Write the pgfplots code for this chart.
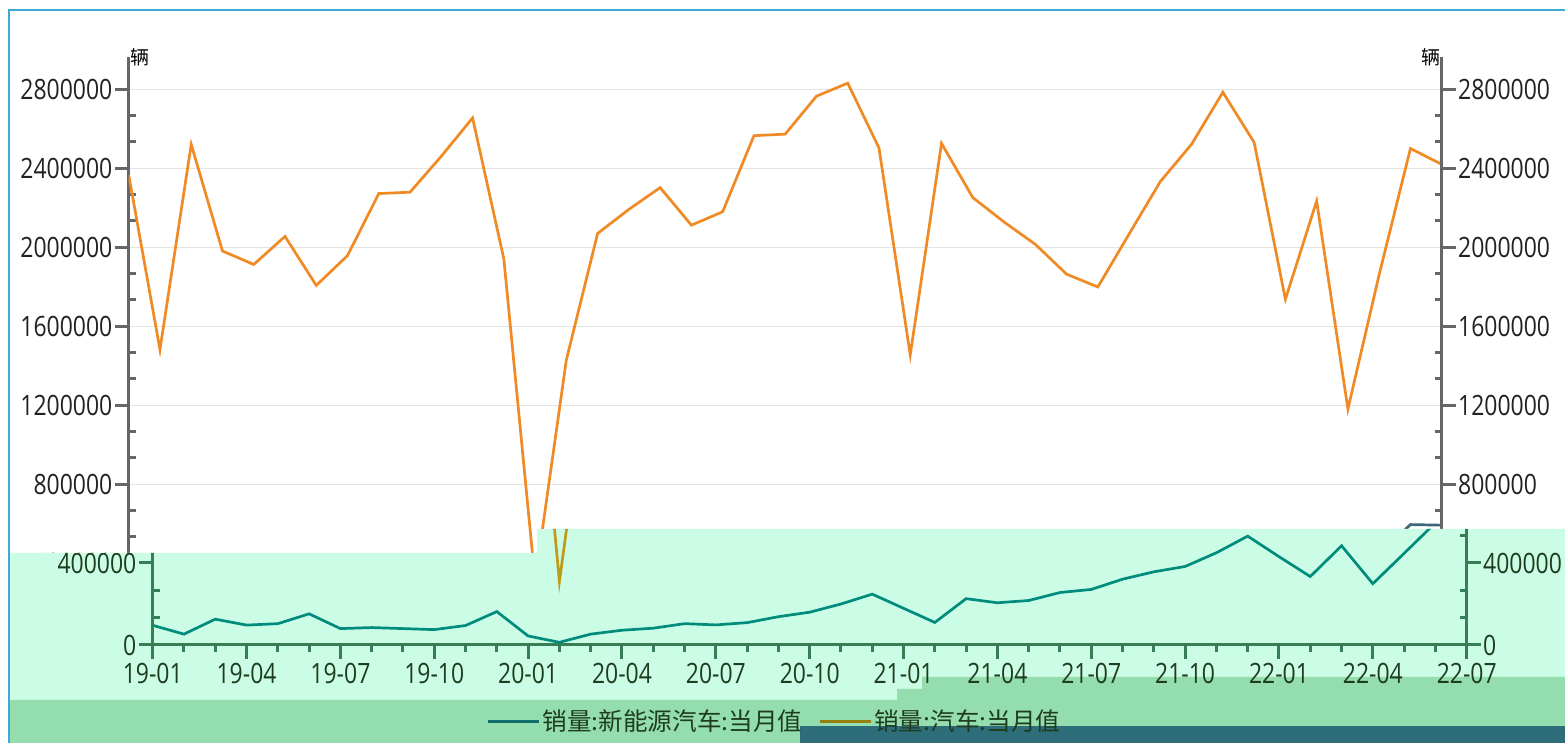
\documentclass[border=0pt]{standalone}
\usepackage{fontspec}
\setmainfont{Open Sans}[FakeStretch=0.82]
\newfontfamily\cjk{Noto Sans CJK SC}
\usepackage{pgfplots}
\usepackage{pgfplotstable}
\pgfplotsset{compat=1.18}

\definecolor{orangeT}{RGB}{240,138,36}
\definecolor{tealT}{RGB}{60,104,120}
\definecolor{axgray}{RGB}{102,102,102}
\definecolor{gridgray}{RGB}{228,228,228}
\definecolor{labdark}{RGB}{34,34,34}
\definecolor{mint}{RGB}{203,252,230}
\definecolor{bandgreen}{RGB}{147,221,174}
\definecolor{darkstrip}{RGB}{46,110,123}
\definecolor{axgreen}{RGB}{55,125,85}
\definecolor{labgreen}{RGB}{30,60,30}
\definecolor{olive}{RGB}{190,155,25}
\definecolor{tealC}{RGB}{0,140,125}
\definecolor{legteal}{RGB}{15,110,106}
\definecolor{legolive}{RGB}{150,128,15}
\definecolor{frameblue}{RGB}{60,170,210}

% month index (0 = 19-01), car sales, NEV sales
\pgfplotstableread{
m car nev
0 2367000 96000
1 1482000 53000
2 2521000 126000
3 1981000 97000
4 1913000 104000
5 2055000 152000
6 1807000 80000
7 1958000 85000
8 2272000 80000
9 2279000 75000
10 2461000 95000
11 2655000 163000
12 1941000 44000
13 310000 13000
14 1430000 53000
15 2070000 72000
16 2192000 82000
17 2302000 104000
18 2112000 98000
19 2180000 109000
20 2565000 138000
21 2573000 160000
22 2765000 200000
23 2831000 248000
24 2503000 179000
25 1455000 110000
26 2526000 226000
27 2252000 206000
28 2128000 217000
29 2015000 256000
30 1864000 271000
31 1799000 321000
32 2067000 357000
33 2333000 383000
34 2522000 450000
35 2785000 531000
36 2531000 431000
37 1737000 334000
38 2234000 484000
39 1181000 299000
40 1862000 447000
41 2500000 596000
42 2420000 593000
}\salesdata

\pgfplotsset{
  yax/.style={
    scale only axis, xmin=0, xmax=42, ymin=0, ymax=2963500,
    ytick={0,400000,800000,1200000,1600000,2000000,2400000,2800000},
    minor y tick num=2, scaled y ticks=false,
    /pgf/number format/assume math mode=true,
    y tick label style={/pgf/number format/fixed,/pgf/number format/precision=0,
      /pgf/number format/1000 sep={}, font=\fontsize{14}{16}\selectfont, inner sep=1pt},
    tick align=outside, major tick length=7pt, minor tick length=-3.5pt,
  },
  top/.style={yax, width=656.5pt, height=292.65pt, at={(64.35pt,50.35pt)}, anchor=south west,
    clip mode=individual,
    axis line style={color=axgray, line width=1.5pt},
    tick style={color=axgray, line width=1.5pt},
    y tick label style={text=labdark}},
  copy/.style={yax, width=657pt, height=303.75pt, at={(76.35pt,49pt)}, anchor=south west,
    axis line style={color=axgreen, line width=1.5pt},
    tick style={color=axgreen, line width=1.5pt},
    y tick label style={text=labgreen}},
}

\begin{document}
\begin{tikzpicture}
\fill[white] (0pt,0pt) rectangle (782.5pt,371.5pt);
\useasboundingbox (0pt,0pt) rectangle (782.5pt,371.5pt);

% the full chart
\begin{axis}[top, axis y line*=left, axis x line=none,
  ymajorgrids, grid style={color=gridgray, line width=0.5pt}]
\addplot[color=orangeT, line width=1.35pt] table[x=m, y=car] {\salesdata};
\addplot[color=tealT, line width=1.35pt] table[x=m, y=nev] {\salesdata};
\node[anchor=west, inner sep=0.5pt, text=black] at (rel axis cs:0,1) {\cjk\fontsize{9.5pt}{11pt}\selectfont 辆};
\end{axis}
\begin{axis}[top, axis y line*=right, axis x line=none]
\node[anchor=east, inner sep=0.5pt, text=black] at (rel axis cs:1,1) {\cjk\fontsize{9.5pt}{11pt}\selectfont 辆};
\end{axis}

% shifted, tinted band at the bottom
\begin{scope}
\clip (5pt,95pt) -- (268.5pt,95pt) -- (268.5pt,107pt) -- (782.5pt,107pt)
  -- (782.5pt,0pt) -- (5pt,0pt) -- cycle;
\fill[mint] (5pt,95pt) -- (268.5pt,95pt) -- (268.5pt,107pt) -- (782.5pt,107pt)
  -- (782.5pt,33pt) -- (461pt,33pt) -- (461pt,27pt) -- (448.5pt,27pt)
  -- (448.5pt,21.5pt) -- (5pt,21.5pt) -- cycle;
\fill[bandgreen] (5pt,21.5pt) -- (448.5pt,21.5pt) -- (448.5pt,27pt) -- (461pt,27pt)
  -- (461pt,33pt) -- (782.5pt,33pt) -- (782.5pt,8.5pt) -- (400pt,8.5pt)
  -- (400pt,0pt) -- (5pt,0pt) -- cycle;
\fill[darkstrip] (400pt,0pt) rectangle (782.5pt,8.5pt);

\begin{axis}[copy, axis x line*=bottom, axis y line=none,
  ytick=\empty, minor y tick num=0,
  xtick={0,3,...,42}, minor x tick num=2, minor tick length=3.5pt,
  xticklabels={19-01,19-04,19-07,19-10,20-01,20-04,20-07,20-10,21-01,21-04,21-07,21-10,22-01,22-04,22-07},
  x tick label style={font=\fontsize{14}{16}\selectfont, text=labgreen, inner sep=2pt},
  legend columns=2,
  legend image code/.code={\draw[#1] (0pt,0pt) -- (25.5pt,0pt);},
  legend style={at={(0.4732,-0.1267)}, anchor=center, draw=none, fill=none,
    inner sep=0pt, nodes={inner sep=1pt, text=labgreen},
    font=\cjk\fontsize{12.3}{14}\selectfont,
    /tikz/every even column/.append style={column sep=7pt}}]
\addplot[color=olive, line width=1.35pt, forget plot] table[x=m, y=car] {\salesdata};
\addplot[color=tealC, line width=1.35pt, forget plot] table[x=m, y=nev] {\salesdata};
\addlegendimage{color=legteal, line width=1.5pt}
\addlegendentry{销量:新能源汽车:当月值}
\addlegendimage{color=legolive, line width=1.5pt}
\addlegendentry{销量:汽车:当月值}
\end{axis}
\begin{axis}[copy, axis y line*=left, axis x line=none]
\end{axis}
\begin{axis}[copy, axis y line*=right, axis x line=none]
\end{axis}
\end{scope}

\draw[frameblue, line width=1pt] (4.5pt,0pt) -- (4.5pt,366.5pt) -- (782.5pt,366.5pt);
\end{tikzpicture}
\end{document}
